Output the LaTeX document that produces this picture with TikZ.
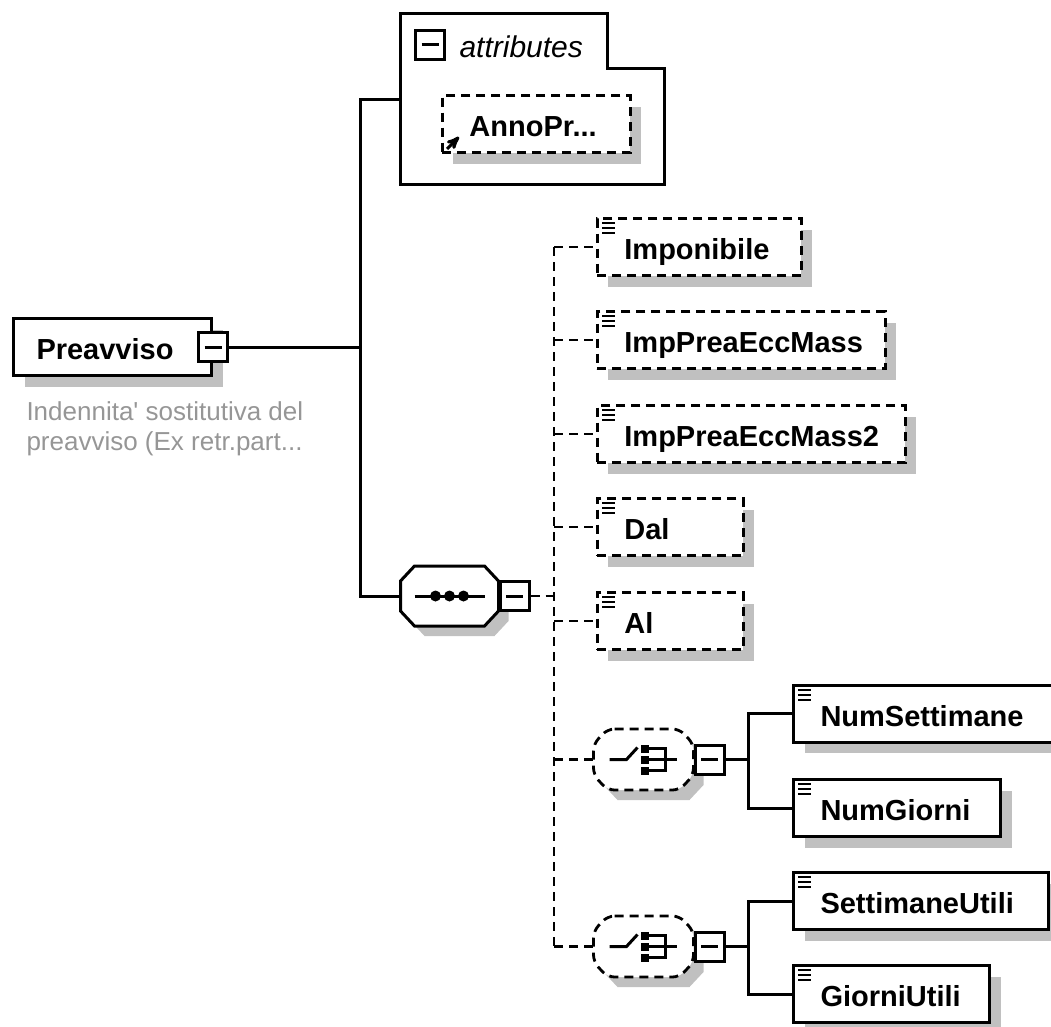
\documentclass[tikz,border=0pt]{standalone}
\usepackage{fontspec}
\setmainfont{Liberation Sans}
\usetikzlibrary{arrows, positioning, shadows}
\definecolor{shadowgray}{RGB}{192,192,192}
\definecolor{notegray}{RGB}{150,150,150}

\begin{document}
\begin{tikzpicture}[x=1pt, y=-1pt, >=stealth', line width=3pt,
	box/.style={rectangle, draw, line width=3pt, fill=white, anchor=west, minimum height=57pt,
		inner xsep=27pt, inner ysep=0pt, text height=25pt, text depth=0pt, align=left,
		font=\fontsize{29}{34}\selectfont\bfseries,
		drop shadow={shadow xshift=11pt, shadow yshift=-11pt, fill=shadowgray, opacity=1}},
	optbox/.style={box, line width=2.8pt, dash pattern=on 9pt off 6pt},
	tgl/.style={rectangle, draw, fill=white, minimum size=29pt, inner sep=0pt,
		path picture={\draw ([xshift=6pt]path picture bounding box.west) -- ([xshift=-6pt]path picture bounding box.east);}},
	dwire/.style={line width=2.8pt, dash pattern=on 9pt off 6pt},
	choiceline/.style={dwire, rounded corners=7pt}]

		\useasboundingbox (0,0) rectangle (1051,1026);

		\node[box, text width=152pt, inner xsep=23pt] (R0) 	at (12,347) 	{Preavviso};
		\node[tgl] (pm0) 	at (R0.east) 	{};
		\node[anchor=north west, inner sep=0pt, align=left, text=notegray, font=\fontsize{26}{30}\selectfont] (D0)
			[below right=23pt and 13pt of R0.south west] 	{Indennita\textquotesingle\ sostitutiva del\\preavviso (Ex retr.part...};

		\node[minimum width=261pt, minimum height=168pt, inner sep=0pt] (At) 	at (532.5,99) 	{};
		\draw[fill=white] (At.south west) -- (At.north west) -- ([xshift=-57pt]At.north east)
			-- ([xshift=-57pt, yshift=-55pt]At.north east) -- ([yshift=-55pt]At.north east) -- (At.south east) -- cycle;
		\node[tgl] (pmA) 	at (430,44.5) 	{};
		\node[anchor=west, inner sep=0pt, font=\fontsize{30}{34}\selectfont\itshape] (AtL) 	at (458,47) 	{attributes};
		\node[optbox, text width=134pt] (A1) 	at (441,124) 	{AnnoPr...};
		\draw[line width=3pt, ->] ([xshift=6pt, yshift=5pt]A1.south west) -- ++(12pt,12pt);

		\node[minimum width=95pt, minimum height=57pt, inner sep=0pt] (Seq) 	at (449.5,596) 	{};
		\node[minimum width=97pt, minimum height=58pt, inner sep=0pt] (C1) 		at (643.5,759.5) 	{};
		\node[minimum width=97pt, minimum height=58pt, inner sep=0pt] (C2) 		at (643.5,946.5) 	{};
		\foreach \c/\s in {Seq/solid, C1/choiceline, C2/choiceline} {
			\fill[shadowgray, transform canvas={xshift=10pt, yshift=-10pt}] ([xshift=14pt]\c.north west) -- ([xshift=-14pt]\c.north east)
				-- ([yshift=-15pt]\c.north east) -- ([yshift=15pt]\c.south east) -- ([xshift=-14pt]\c.south east)
				-- ([xshift=14pt]\c.south west) -- ([yshift=15pt]\c.south west) -- ([yshift=-15pt]\c.north west) -- cycle;
			\draw[\s, fill=white] ([xshift=14pt]\c.north west) -- ([xshift=-14pt]\c.north east)
				-- ([yshift=-15pt]\c.north east) -- ([yshift=15pt]\c.south east) -- ([xshift=-14pt]\c.south east)
				-- ([xshift=14pt]\c.south west) -- ([yshift=15pt]\c.south west) -- ([yshift=-15pt]\c.north west) -- cycle;
		}
		\draw ([xshift=-35pt]Seq.center) -- ([xshift=35pt]Seq.center);
		\foreach \d in {-14,0,14} \fill ([xshift=\d pt]Seq.center) circle (5.5pt);
		\foreach \c in {C1,C2} {
			\draw ([xshift=-34pt]\c.center) -- ([xshift=-17pt]\c.center) -- ([xshift=-6pt, yshift=12pt]\c.center);
			\foreach \d in {-11,0,11} \fill ([xshift=1.5pt, yshift=\d pt]\c.center) +(-4pt,-4pt) rectangle +(4pt,4pt);
			\draw ([xshift=1.5pt, yshift=11pt]\c.center) -| ([xshift=21.5pt, yshift=-11pt]\c.center) -- ([xshift=1.5pt, yshift=-11pt]\c.center);
			\draw ([xshift=1.5pt]\c.center) -- ([xshift=33.5pt]\c.center);
		}
		\node[tgl] (pmS) 	[right=0pt of Seq] 	{};
		\node[tgl] (pmC1) 	[right=0pt of C1] 	{};
		\node[tgl] (pmC2) 	[right=0pt of C2] 	{};

		\node[optbox, text width=150pt] (E1) 	at (596,247) 	{Imponibile};
		\node[optbox, text width=234pt] (E2) 	at (596,340) 	{ImpPreaEccMass};
		\node[optbox, text width=254pt] (E3) 	at (596,434) 	{ImpPreaEccMass2};
		\node[optbox, text width=92pt] (E4) 	at (596,527) 	{Dal};
		\node[optbox, text width=92pt] (E5) 	at (596,621) 	{Al};

		\node[box, text width=220pt] (E6) 	at (792,713.5) 	{NumSettimane};
		\node[box, text width=153pt] (E7) 	at (792,808) 	{NumGiorni};
		\node[box, text width=201pt] (E8) 	at (792,901) 	{SettimaneUtili};
		\node[box, text width=142pt] (E9) 	at (792,994) 	{GiorniUtili};

		\foreach \n in {E1,E2,E3,E4,E5,E6,E7,E8,E9}
			\foreach \d in {6,11,16} \draw[line width=2pt] ([xshift=6pt, yshift=-\d pt]\n.north west) -- ++(13pt,0);

		\coordinate (J0) at (360,347);
		\coordinate (J1) at (554,596);
		\coordinate (J2) at (748,759.5);
		\coordinate (J3) at (748,946.5);

		\draw (pm0.east) -- (J0);
		\draw (At.west) -| (J0) |- (Seq.west);
		\draw[dwire] (pmS.east) -- (J1);
		\draw[dwire] (J1 |- E1.west) -- (J1 |- C2.west);
		\foreach \n in {E1,E2,E3,E4,E5,C1,C2}
			\draw[dwire] (J1 |- \n.west) -- (\n.west);
		\draw (pmC1.east) -- (J2);
		\draw (E6.west) -| (J2) |- (E7.west);
		\draw (pmC2.east) -- (J3);
		\draw (E8.west) -| (J3) |- (E9.west);

	\end{tikzpicture}
\end{document}
